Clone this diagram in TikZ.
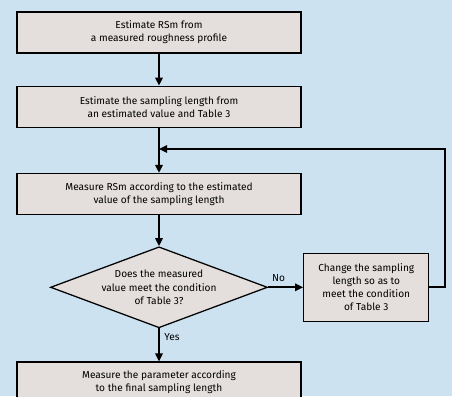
\documentclass[tikz,border=0pt]{standalone}
\usepackage{fontspec}
\setmainfont{Fira Sans}
\usetikzlibrary{arrows.meta,positioning,shapes.geometric}
\definecolor{bgblue}{HTML}{CCE2F0}
\definecolor{boxfill}{HTML}{E4DFDC}

\begin{document}
\begin{tikzpicture}[
  x=0.75pt, y=-0.75pt,
  every node/.style={font=\fontsize{7.6pt}{9.8pt}\selectfont, align=center},
  stepbox/.style={draw, line width=0.95pt, fill=boxfill, minimum width=213pt, minimum height=30.75pt, inner sep=1pt},
  sidebox/.style={draw, line width=0.95pt, fill=boxfill, minimum width=93.75pt, minimum height=51pt, inner sep=1pt},
  query/.style={draw, line width=0.95pt, fill=boxfill, diamond, aspect=2.68, minimum width=162.75pt, minimum height=60.75pt, inner sep=0pt},
  arr/.style={line width=1.5pt, -{Triangle[length=6pt,width=5.5pt]}}
]
\fill[bgblue] (0,0) rectangle (452,396);
\useasboundingbox (0,0) rectangle (452,396);
% main column
\node[stepbox] (s1) at (159,32.5) {Estimate RSm from\\a measured roughness profile};
\node[stepbox, below=24pt of s1] (s2) {Estimate the sampling length from\\an estimated value and Table 3};
\node[stepbox, below=33.75pt of s2] (s3) {Measure RSm according to the estimated\\value of the sampling length};
\node[query, below=23.25pt of s3] (q) {Does the measured\\value meet the condition\\of Table 3?};
\node[stepbox, below=24.75pt of q] (s4) {Measure the parameter according\\to the final sampling length};
% side branch
\node[sidebox, right=26.25pt of q] (ch) {Change the sampling\\length so as to\\meet the condition\\of Table 3};
\coordinate (jn) at (159,149);
\coordinate (rt) at (445,149);
\draw[arr] (s1) -- (s2);
\draw[arr] (s2) -- (s3);
\draw[arr] (s3) -- (q);
\draw[arr] (q) -- node[right, pos=0.25] {Yes} (s4);
\draw[arr] (q.east) -- node[above, pos=0.3] {No} (ch.west |- q.east);
\draw[arr] (ch.east |- q.east) -| (rt) -- (jn);
\end{tikzpicture}
\end{document}
